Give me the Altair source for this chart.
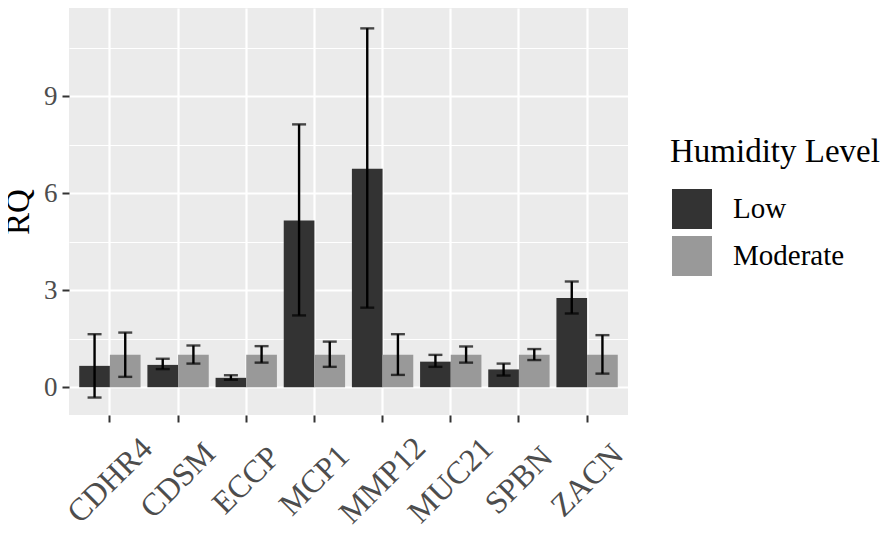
import altair as alt
import pandas as pd

genes = ["CDHR4", "CDSM", "ECCP", "MCP1", "MMP12", "MUC21", "SPBN", "ZACN"]
levels = ["Low", "Moderate"]
low_rq = [0.66, 0.69, 0.29, 5.16, 6.76, 0.79, 0.55, 2.76]
low_lo = [-0.32, 0.56, 0.23, 2.22, 2.46, 0.63, 0.36, 2.28]
low_hi = [1.64, 0.88, 0.37, 8.13, 11.10, 1.00, 0.73, 3.27]
mod_rq = [1.0, 1.0, 1.0, 1.0, 1.0, 1.0, 1.0, 1.0]
mod_lo = [0.32, 0.73, 0.76, 0.63, 0.38, 0.76, 0.84, 0.42]
mod_hi = [1.69, 1.29, 1.27, 1.41, 1.64, 1.26, 1.18, 1.61]
y_values = [0, 1.5, 3, 4.5, 6, 7.5, 9, 10.5]
colors = ["#333333", "#999999"]

rows = []
for i, g in enumerate(genes):
    rows.append({"Gene": g, "Humidity Level": "Low", "RQ": low_rq[i], "lo": low_lo[i], "hi": low_hi[i]})
    rows.append({"Gene": g, "Humidity Level": "Moderate", "RQ": mod_rq[i], "lo": mod_lo[i], "hi": mod_hi[i]})
df = pd.DataFrame(rows)

FONT = "Liberation Serif"
major = "datum.value % 3 == 0"

x_enc = alt.X(
    "Gene:N",
    sort=genes,
    title=None,
    scale=alt.Scale(paddingInner=0, paddingOuter=0.1),
    axis=alt.Axis(
        bandPosition=0.5,
        labelAngle=315,
        labelAlign="center",
        labelBaseline="middle",
        labelPadding=58,
        labelFontSize=32,
        labelColor="#4D4D4D",
        labelFont=FONT,
        labelLimit=0,
        labelOverlap=False,
        labelBound=False,
        tickSize=7,
        tickWidth=2,
        tickColor="#333333",
        domain=False,
        grid=True,
        gridColor="white",
        gridWidth=2.2,
    ),
)
xo_enc = alt.XOffset(
    "Humidity Level:N",
    sort=levels,
    scale=alt.Scale(domain=levels, paddingInner=0, paddingOuter=1 / 9),
)
y_scale = alt.Scale(domain=[-0.86, 11.73], nice=False, zero=False)
y_axis = alt.Axis(
    values=y_values,
    labelExpr=f"{major} ? datum.label : ''",
    labelFontSize=27,
    labelColor="#4D4D4D",
    labelFont=FONT,
    labelPadding=5,
    tickSize=7,
    tickWidth=2,
    tickColor={"condition": {"test": major, "value": "#333333"}, "value": "transparent"},
    domain=False,
    grid=True,
    gridColor="white",
    gridWidth={"condition": {"test": major, "value": 2.2}, "value": 1.1},
    title="RQ",
    titleFont=FONT,
    titleFontSize=33,
    titleFontWeight="normal",
    titleColor="black",
    titlePadding=8,
)

base = alt.Chart(df)

bars = base.mark_bar().encode(
    x=x_enc,
    xOffset=xo_enc,
    y=alt.Y("RQ:Q", scale=y_scale, axis=y_axis),
    y2=alt.datum(0),
    fill=alt.Fill(
        "Humidity Level:N",
        scale=alt.Scale(domain=levels, range=colors),
        legend=alt.Legend(
            orient="none",
            legendX=601,
            legendY=128,
            title="Humidity Level",
            titleFont=FONT,
            titleFontSize=33,
            titleFontWeight="normal",
            titleColor="black",
            titlePadding=18,
            titleLimit=0,
            labelFont=FONT,
            labelFontSize=29,
            labelColor="black",
            labelOffset=19,
            labelLimit=0,
            symbolType="square",
            symbolSize=1764,
            symbolStrokeColor="white",
            symbolStrokeWidth=2,
            symbolOpacity=1,
            rowPadding=-4,
        ),
    ),
)

rules = base.mark_rule(color="black", strokeWidth=2.4).encode(
    x=alt.X("Gene:N", sort=genes),
    xOffset=xo_enc,
    y=alt.Y("lo:Q", scale=y_scale),
    y2="hi:Q",
)
caps_hi = base.mark_tick(orient="horizontal", size=14, thickness=2.4, color="black").encode(
    x=alt.X("Gene:N", sort=genes),
    xOffset=xo_enc,
    y=alt.Y("hi:Q", scale=y_scale),
)
caps_lo = base.mark_tick(orient="horizontal", size=14, thickness=2.4, color="black").encode(
    x=alt.X("Gene:N", sort=genes),
    xOffset=xo_enc,
    y=alt.Y("lo:Q", scale=y_scale),
)

chart = (
    alt.layer(bars, rules, caps_hi, caps_lo)
    .properties(
        width=559,
        height=407,
        autosize=alt.AutoSizeParams(type="none"),
        padding={"left": 61, "top": 0, "right": 259, "bottom": 112},
    )
    .configure(font=FONT)
    .configure_view(fill="#EBEBEB", strokeWidth=0, stroke=None)
)

chart.save("out.html", embed_options={"renderer": "svg", "actions": False})
